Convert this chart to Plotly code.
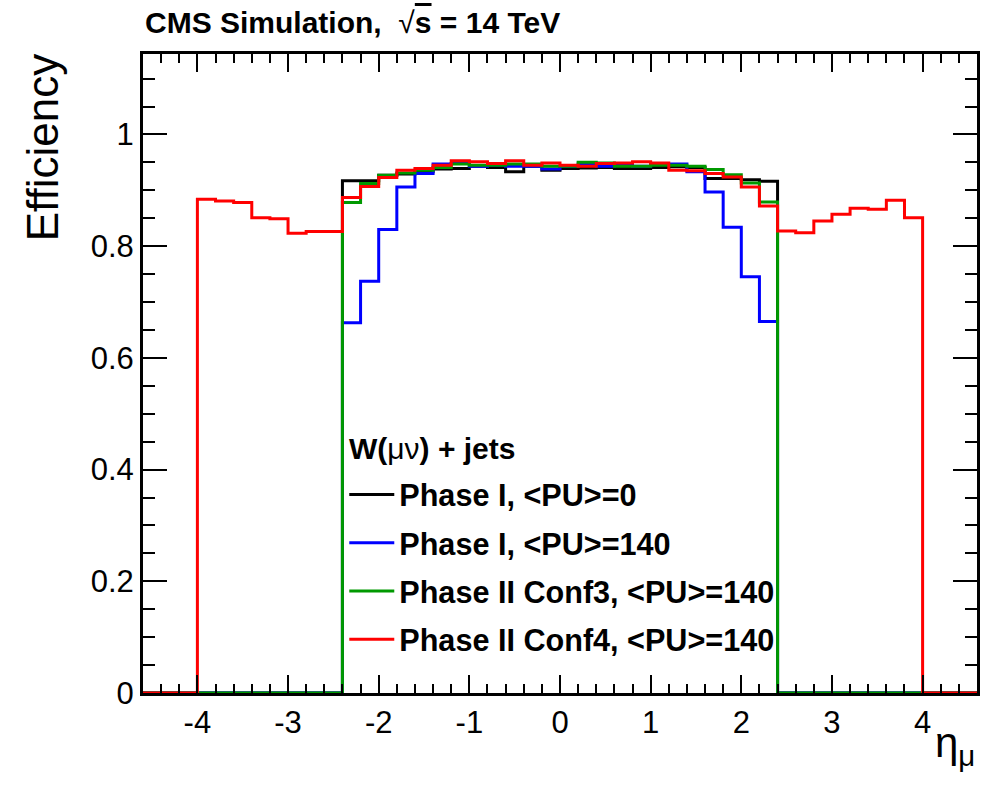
import numpy as np
import plotly.graph_objects as go

# ---- data ----
bin_edges = [round(-4.6 + 0.2 * i, 1) for i in range(47)]  # 46 bins of width 0.2

phase1_pu0 = [0, 0, 0, 0, 0, 0, 0, 0, 0, 0, 0,
              0.917, 0.917, 0.927, 0.929, 0.933, 0.938, 0.939, 0.943, 0.941, 0.933,
              0.943, 0.936, 0.939, 0.940, 0.941, 0.939, 0.939, 0.941, 0.942, 0.941,
              0.921, 0.921, 0.919, 0.916,
              0, 0, 0, 0, 0, 0, 0, 0, 0, 0, 0]
phase1_pu140 = [0, 0, 0, 0, 0, 0, 0, 0, 0, 0, 0,
                0.663, 0.737, 0.830, 0.906, 0.930, 0.947, 0.948, 0.943, 0.945, 0.943,
                0.943, 0.938, 0.943, 0.947, 0.943, 0.945, 0.943, 0.947, 0.947, 0.933,
                0.897, 0.834, 0.745, 0.665,
                0, 0, 0, 0, 0, 0, 0, 0, 0, 0, 0]
phase2_conf3 = [0, 0, 0, 0, 0, 0, 0, 0, 0, 0, 0,
                0.878, 0.912, 0.927, 0.931, 0.936, 0.941, 0.947, 0.945, 0.945, 0.947,
                0.947, 0.943, 0.943, 0.950, 0.949, 0.943, 0.943, 0.945, 0.945, 0.943,
                0.937, 0.928, 0.913, 0.879,
                0, 0, 0, 0, 0, 0, 0, 0, 0, 0, 0]
phase2_conf4 = [0, 0, 0,
                0.884, 0.881, 0.878, 0.851, 0.849, 0.823, 0.826, 0.826,
                0.887, 0.907, 0.923, 0.936, 0.939, 0.945, 0.953, 0.951, 0.948, 0.953,
                0.945, 0.949, 0.945, 0.943, 0.948, 0.949, 0.951, 0.949, 0.936, 0.935,
                0.930, 0.924, 0.906, 0.872,
                0.827, 0.824, 0.845, 0.857, 0.868, 0.866, 0.882, 0.851,
                0, 0, 0]

series_names = ["Phase I, &lt;PU&gt;=0", "Phase I, &lt;PU&gt;=140",
                "Phase II Conf3, &lt;PU&gt;=140", "Phase II Conf4, &lt;PU&gt;=140"]
series_values = [phase1_pu0, phase1_pu140, phase2_conf3, phase2_conf4]
series_colors = ["#000000", "#0000ff", "#009900", "#ff0000"]

x_tickvals = [-4, -3, -2, -1, 0, 1, 2, 3, 4]
x_ticktext = ["-4", "-3", "-2", "-1", "0", "1", "2", "3", "4"]
y_tickvals = [0, 0.2, 0.4, 0.6, 0.8, 1.0]
y_ticktext = ["0", "0.2", "0.4", "0.6", "0.8", "1"]

FONT = "Liberation Sans"

fig = go.Figure()
for i, (name, vals, col) in enumerate(zip(series_names, series_values, series_colors)):
    fig.add_trace(go.Scatter(
        x=bin_edges, y=list(vals) + [vals[-1]],
        mode="lines", line=dict(color=col, width=3, shape="hv"),
        name=name, legendgroup=f"g{i}", showlegend=True,
    ))

axis_common = dict(
    showline=True, linecolor="black", linewidth=3, mirror="allticks",
    ticks="inside", tickcolor="black", tickwidth=2,
    showgrid=False, zeroline=False,
    tickfont=dict(family=FONT, size=31, color="black"),
)

fig.update_layout(
    width=991, height=788,
    margin=dict(l=143, r=11, t=54, b=95),
    paper_bgcolor="white", plot_bgcolor="white",
    showlegend=True,
    legend=dict(
        x=(345 - 143) / 837, y=(693 - 468) / 639, xanchor="left", yanchor="top",
        bgcolor="rgba(0,0,0,0)", borderwidth=0,
        font=dict(family=FONT, size=30.6, color="black", weight="bold"),
        tracegroupgap=5.5, itemwidth=45,
    ),
    xaxis=dict(range=[-4.6, 4.6], tickvals=x_tickvals, ticktext=x_ticktext,
               ticklen=18, minor=dict(dtick=0.2, ticklen=9, ticks="inside",
                                      tickcolor="black", tickwidth=2),
               **axis_common),
    yaxis=dict(range=[0, 1.144], tickvals=y_tickvals, ticktext=y_ticktext,
               ticklen=24, minor=dict(dtick=0.05, ticklen=12, ticks="inside",
                                      tickcolor="black", tickwidth=2),
               **axis_common),
)

fig.add_annotation(
    text="<b>W(</b>μν<b>) + jets</b>",
    xref="paper", yref="paper", x=(348 - 143) / 837, y=(693 - 448) / 639,
    xanchor="left", yanchor="middle", showarrow=False,
    font=dict(family=FONT, size=30, color="black"),
)
fig.add_annotation(
    text="<b>CMS Simulation,</b>  √<span style='text-decoration:overline'><b>s</b></span><b> = 14 TeV</b>",
    xref="paper", yref="paper", x=0, y=1 + (54 - 23) / 639,
    xanchor="left", yanchor="middle", showarrow=False,
    font=dict(family=FONT, size=30, color="black"),
)
fig.add_annotation(
    text="Efficiency", textangle=-90,
    xref="paper", yref="paper", x=(42 - 143) / 837, y=(693 - 147) / 639,
    xanchor="center", yanchor="middle", showarrow=False,
    font=dict(family=FONT, size=44, color="black"),
)
fig.add_annotation(
    text="η<sub>μ</sub>",
    xref="paper", yref="paper", x=1, y=(693 - 745) / 639,
    xanchor="right", yanchor="middle", showarrow=False,
    font=dict(family=FONT, size=42, color="black"),
)

fig.write_html("out.html")
